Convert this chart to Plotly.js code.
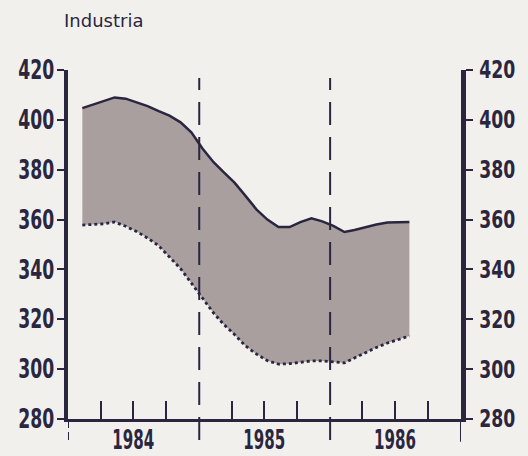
<!DOCTYPE html>
<html>
<head>
<meta charset="utf-8">
<script src="https://cdn.plot.ly/plotly-3.0.1.min.js"></script>
<style>
  html, body { margin: 0; padding: 0; background: #f2f0ec; }
  #chart { width: 528px; height: 456px; }
</style>
</head>
<body>
<div id="chart"></div>
<script>
// Monthly observations (Feb 1984 – Aug 1986)
const months = [
  '1984-02-10','1984-03-10','1984-04-10','1984-05-10','1984-06-10','1984-07-10',
  '1984-08-10','1984-09-10','1984-10-10','1984-11-10','1984-12-10',
  '1985-01-10','1985-02-10','1985-03-10','1985-04-10','1985-05-10','1985-06-10',
  '1985-07-10','1985-08-10','1985-09-10','1985-10-10','1985-11-10','1985-12-10',
  '1986-01-10','1986-02-10','1986-03-10','1986-04-10','1986-05-10','1986-06-10',
  '1986-07-10','1986-08-10'
];
// Upper bound (solid line)
const upper = [
  404.7, 406.0, 407.7, 409.0, 408.5, 407.0,
  405.5, 403.5, 401.7, 399.0, 395.0,
  388.5, 383.0, 379.0, 374.7, 369.5, 364.0,
  360.0, 357.0, 357.0, 359.0, 360.5, 359.3,
  357.5, 355.0, 355.8, 357.0, 358.0, 358.8,
  359.0, 359.0
];
// Lower bound (dotted line)
const lower = [
  357.8, 358.0, 358.3, 359.0, 357.3, 355.2,
  352.6, 349.5, 345.0, 340.3, 334.5,
  328.3, 322.5, 318.0, 313.8, 309.3, 306.0,
  303.4, 302.0, 302.2, 302.8, 303.3, 303.3,
  303.0, 302.5, 304.5, 306.8, 308.7, 310.5,
  312.0, 313.3
];
// Axis ticks
const yTicks = [280, 300, 320, 340, 360, 380, 400, 420];
const xTickVals = ['1984-04-01','1984-07-01','1984-10-01',
                   '1985-04-01','1985-07-01','1985-10-01',
                   '1986-04-01','1986-07-01','1986-10-01'];
const xTickText = ['', '1984', '', '', '1985', '', '', '1986', ''];
const yearBreaks = ['1985-01-01', '1986-01-01'];
const titleText = 'Industria';

const ink = '#2b2640';
const fillCol = '#aa9f9f';
const bg = '#f2f0ec';
const tickFont = { family: '"DejaVu Sans", sans-serif', size: 26, color: ink, weight: 'bold' };
const tickFontRight = { family: '"DejaVu Sans", sans-serif', size: 24, color: ink, weight: 'bold' };

const traces = [
  {
    x: months, y: lower, type: 'scatter', mode: 'lines',
    line: { color: ink, width: 2.8, dash: 'dot' },
    hoverinfo: 'skip', showlegend: false
  },
  {
    x: months, y: upper, type: 'scatter', mode: 'lines',
    fill: 'tonexty', fillcolor: fillCol,
    line: { color: ink, width: 2.5 },
    hoverinfo: 'skip', showlegend: false
  },
  {
    // carrier for the right-hand axis (not visible)
    x: months, y: upper, yaxis: 'y2', type: 'scatter', mode: 'lines',
    line: { color: 'rgba(0,0,0,0)', width: 0 }, opacity: 0,
    hoverinfo: 'skip', showlegend: false
  }
];

const shapes = [];
yearBreaks.forEach(d => {
  shapes.push({
    type: 'line', xref: 'x', yref: 'paper', x0: d, x1: d, y0: -0.06, y1: 0.977,
    line: { color: ink, width: 2, dash: '23px,12px' }
  });
});
// axis extensions below the x axis
shapes.push({ type: 'line', xref: 'x', yref: 'paper', x0: '1984-01-01', x1: '1984-01-01', y0: -0.06, y1: 0,
  line: { color: ink, width: 2, dash: '8px,4px' } });
shapes.push({ type: 'line', xref: 'x', yref: 'paper', x0: '1987-01-01', x1: '1987-01-01', y0: -0.065, y1: 0,
  line: { color: ink, width: 2 } });

const yCommon = {
  range: [280, 420], tickvals: yTicks, ticktext: yTicks.map(String),
  showgrid: false, zeroline: false, showline: true, linecolor: ink, linewidth: 4.5,
  ticks: 'outside', ticklen: 7, tickwidth: 2, tickcolor: ink,
  tickfont: tickFont, fixedrange: true
};

const layout = {
  width: 528, height: 456,
  margin: { l: 68, r: 67, t: 70, b: 37, pad: 0 },
  paper_bgcolor: bg, plot_bgcolor: bg,
  showlegend: false,
  xaxis: {
    type: 'date', range: ['1984-01-01', '1987-01-01'],
    tickvals: xTickVals, ticktext: xTickText,
    ticks: 'inside', ticklen: 18, tickwidth: 2, tickcolor: ink,
    showgrid: false, zeroline: false, showline: true, linecolor: ink, linewidth: 2.5,
    tickfont: tickFont, tickangle: 0, fixedrange: true, ticklabelstandoff: -4
  },
  yaxis: Object.assign({}, yCommon, { side: 'left', ticklabelstandoff: -3 }),
  yaxis2: Object.assign({}, yCommon, { side: 'right', overlaying: 'y', anchor: 'x',
                                       ticklabelstandoff: 2, tickfont: tickFontRight }),
  shapes: shapes,
  annotations: [{
    text: titleText, xref: 'paper', yref: 'paper', x: -0.016, y: 1.143,
    xanchor: 'left', yanchor: 'middle', showarrow: false,
    font: { family: '"DejaVu Sans", sans-serif', size: 18, color: ink }
  }]
};

Plotly.newPlot('chart', traces, layout, { staticPlot: true, displayModeBar: false }).then(gd => {
  // squeeze tick labels horizontally to mimic the narrow plotter lettering
  gd.querySelectorAll('.ytick text, .y2tick text').forEach(t => {
    t.setAttribute('textLength', '36');
    t.setAttribute('lengthAdjust', 'spacingAndGlyphs');
  });
  gd.querySelectorAll('.xtick text').forEach(t => {
    if (t.textContent.trim()) {
      t.setAttribute('textLength', '42');
      t.setAttribute('lengthAdjust', 'spacingAndGlyphs');
    }
  });
});
</script>
</body>
</html>
